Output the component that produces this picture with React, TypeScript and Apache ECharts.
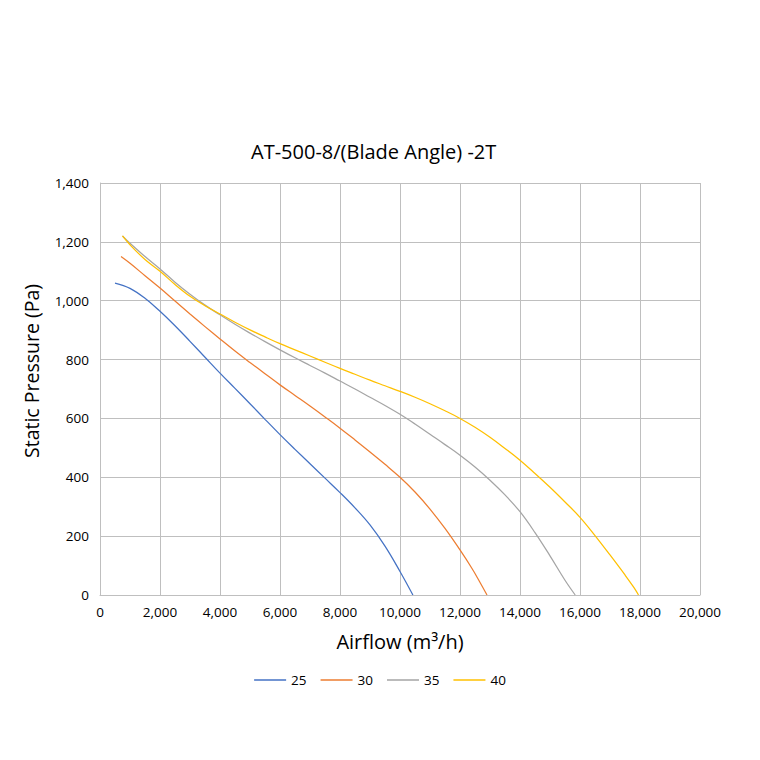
import React, { useEffect, useRef } from "react";
import * as echarts from "echarts";

const seriesNames = ["25", "30", "35", "40"];
const colors = ["#4472C4", "#ED7D31", "#A5A5A5", "#FFC000"];

const curve25: [number, number][] = [
  [500, 1060], [1000, 1042], [1500, 1008], [2000, 964], [2500, 915], [3000, 862],
  [3500, 808], [4000, 754], [4500, 702], [5000, 650], [5500, 597], [6000, 545],
  [6500, 495], [7000, 446], [7500, 397], [8000, 348], [8500, 296], [9000, 238],
  [9500, 166], [10000, 80], [10430, 0],
];
const curve30: [number, number][] = [
  [700, 1150], [1000, 1127], [1500, 1085], [2000, 1043], [2500, 999], [3000, 955],
  [3500, 912], [4000, 870], [4500, 829], [5000, 790], [5500, 752], [6000, 714],
  [6500, 678], [7000, 642], [7500, 605], [8000, 567], [8500, 527], [9000, 486],
  [9500, 444], [10000, 400], [10500, 350], [11000, 292], [11500, 226], [12000, 153],
  [12400, 90], [12650, 46], [12900, 0],
];
const curve35: [number, number][] = [
  [750, 1220], [1000, 1195], [1500, 1150], [2000, 1108], [2500, 1063], [3000, 1022],
  [3500, 985], [4000, 952], [4500, 920], [5000, 890], [5500, 861], [6000, 833],
  [6500, 806], [7000, 780], [7500, 754], [8000, 727], [8500, 700], [9000, 672],
  [9500, 644], [10000, 614], [10500, 581], [11000, 546], [11500, 511], [12000, 475],
  [12500, 435], [13000, 390], [13500, 340], [14000, 283], [14500, 212], [15000, 133],
  [15500, 50], [15840, 0],
];
const curve40: [number, number][] = [
  [750, 1220], [1000, 1190], [1500, 1140], [2000, 1100], [2500, 1055], [3000, 1015],
  [3500, 983], [4000, 955], [4500, 927], [5000, 901], [5500, 877], [6000, 854],
  [6500, 833], [7000, 812], [7500, 791], [8000, 770], [8500, 750], [9000, 730],
  [9500, 711], [10000, 692], [10500, 672], [11000, 650], [11500, 626], [12000, 600],
  [12500, 570], [13000, 536], [13500, 498], [14000, 458], [14500, 413], [15000, 366],
  [15500, 316], [16000, 264], [16500, 202], [17000, 136], [17500, 68], [17800, 25],
  [17950, 0],
];
const curves = [curve25, curve30, curve35, curve40];

const fmt = (v: number) => v.toLocaleString("en-US");
const FONT = "'Open Sans', 'Noto Sans', sans-serif";

export default function App() {
  const ref = useRef<HTMLDivElement>(null);
  useEffect(() => {
    document.body.style.margin = "0";
    const chart = echarts.init(ref.current!, null, { renderer: "svg" });
    chart.setOption({
      animation: false,
      backgroundColor: "#ffffff",
      title: {
        text: "AT-500-8/(Blade Angle) -2T",
        left: 246,
        top: 136,
        textStyle: { fontFamily: FONT, fontSize: 20, fontWeight: "normal", color: "#000" },
      },
      legend: {
        bottom: 68,
        left: "center",
        itemWidth: 32,
        itemHeight: 1.5,
        itemGap: 14,
        icon: "rect",
        data: seriesNames,
        textStyle: { fontFamily: FONT, fontSize: 13.5, color: "#000" },
      },
      grid: { left: 100, top: 183, width: 600, height: 412, containLabel: false },
      xAxis: {
        type: "value",
        min: 0,
        max: 20000,
        interval: 2000,
        name: "Airflow (m³/h)",
        nameLocation: "middle",
        nameGap: 36,
        nameTextStyle: { fontFamily: FONT, fontSize: 20, color: "#000" },
        axisLine: { show: true, lineStyle: { color: "#bfbfbf" } },
        axisTick: { show: false },
        axisLabel: { formatter: fmt, fontFamily: FONT, fontSize: 13.5, color: "#000", margin: 10 },
        splitLine: { show: true, lineStyle: { color: "#bfbfbf", width: 1 } },
      },
      yAxis: {
        type: "value",
        min: 0,
        max: 1400,
        interval: 200,
        name: "Static Pressure (Pa)",
        nameLocation: "middle",
        nameGap: 59,
        nameTextStyle: { fontFamily: FONT, fontSize: 19.5, color: "#000", padding: [0, 0, 0, 36] },
        axisLine: { show: true, lineStyle: { color: "#bfbfbf" } },
        axisTick: { show: false },
        axisLabel: { formatter: fmt, fontFamily: FONT, fontSize: 13.5, color: "#000", margin: 11 },
        splitLine: { show: true, lineStyle: { color: "#bfbfbf", width: 1 } },
      },
      series: curves.map((c, i) => ({
        name: seriesNames[i],
        type: "line",
        data: c,
        smooth: 0.4,
        symbol: "none",
        lineStyle: { color: colors[i], width: 1.25 },
        itemStyle: { color: colors[i] },
      })),
    });
    return () => chart.dispose();
  }, []);
  return <div ref={ref} style={{ width: 760, height: 760 }} />;
}
